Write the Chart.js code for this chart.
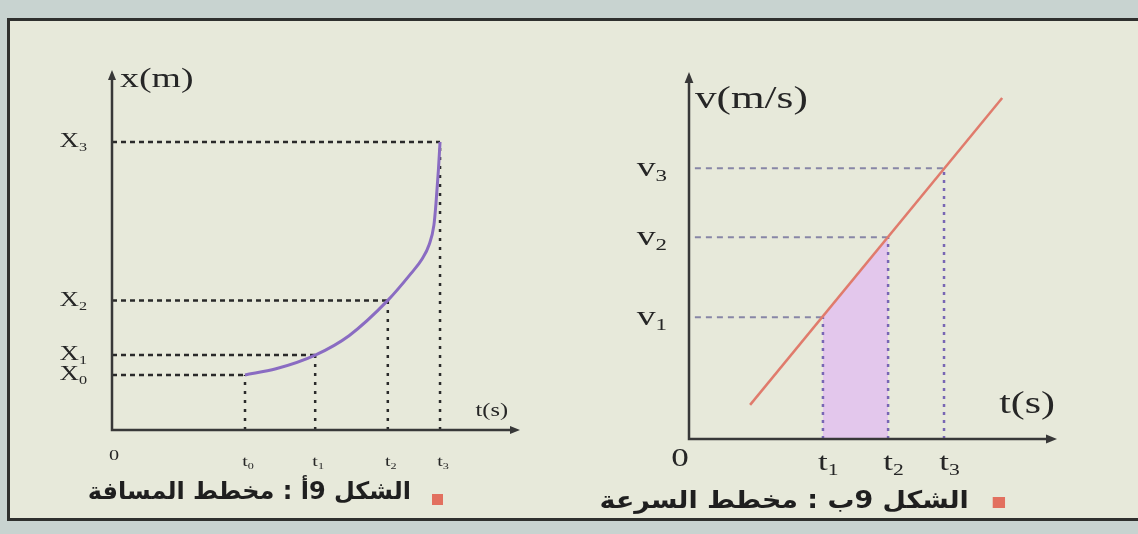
<!DOCTYPE html>
<html lang="ar">
<head>
<meta charset="utf-8">
<title>مخطط المسافة و مخطط السرعة</title>
<script src="https://cdn.jsdelivr.net/npm/chart.js@4.4.1/dist/chart.umd.min.js"></script>
<style>
  html, body { margin: 0; padding: 0; }
  body { width: 1138px; height: 534px; overflow: hidden; position: relative; background: #c8d3d0; }
  #frame { position: absolute; left: 7px; top: 18px; width: 1200px; height: 503px; box-sizing: border-box;
           border: 3px solid #2f302e; border-right: none; background: #e7e9da; }
  canvas { position: absolute; top: 0; }
  #distChart { left: 0; }
  #velChart { left: 569px; }
  .caption { position: absolute; direction: rtl; white-space: nowrap; color: #1f1f1f; transform-origin: right center;
             font-family: "DejaVu Sans", sans-serif; font-weight: bold; font-size: 24px; line-height: 30px; }
  .caption .mark { display: inline-block; position: relative; width: 11px; height: 11px; margin-left: 21px; background: #e2705f; }
  #capA { right: 695px; top: 476px; }
  #capA .mark { top: 6px; }
  #capB { right: 133px; top: 485px; transform: scaleX(1.12); }
</style>
</head>
<body>
<div id="frame"></div>
<canvas id="distChart" width="569" height="534"></canvas>
<canvas id="velChart" width="569" height="534"></canvas>
<div class="caption" id="capA"><span class="mark"></span>الشكل 9أ : مخطط المسافة</div>
<div class="caption" id="capB"><span class="mark"></span>الشكل 9ب : مخطط السرعة</div>
<script>
// ---- figure 9a : distance / time ----
const distTimeLabels = ['t0', 't1', 't2', 't3'];
const distTimes = [3.26, 4.98, 6.76, 8.04];
const distPosLabels = ['X0', 'X1', 'X2', 'X3'];
const distPositions = [1.53, 2.08, 3.60, 8.0];
const distCurveT = [3.26, 4.02, 4.98, 5.81, 6.76, 7.33, 7.60, 7.77, 7.89, 7.94, 8.00, 8.04];
const distCurveX = [1.53, 1.70, 2.08, 2.62, 3.60, 4.35, 4.75, 5.14, 5.69, 6.28, 7.22, 8.0];

// ---- figure 9b : velocity / time ----
const velTimeLabels = ['t1', 't2', 't3'];
const velTimes = [3.64, 5.41, 6.93];
const velLabels = ['v1', 'v2', 'v3'];
const velValues = [3.32, 5.50, 7.38];
const velLineT = [1.66, 8.51];
const velLineV = [0.93, 9.29];

const STRETCH = 1.35; // the printed figure is wider than it is tall
const SERIF = '"Liberation Serif", "Times New Roman", serif';

function textWidth(ctx, text, size) {
    ctx.font = `${size}px ${SERIF}`;
    return ctx.measureText(text).width * STRETCH;
}

function putText(ctx, text, x, y, size) {
    ctx.font = `${size}px ${SERIF}`;
    ctx.save();
    ctx.translate(x, y);
    ctx.scale(STRETCH, 1);
    ctx.fillText(text, 0, 0);
    ctx.restore();
}

// "t2" -> a "t" with a small "2" below it
function putIndexed(ctx, label, x, y, size, align) {
    const main = label.charAt(0);
    const sub = label.slice(1);
    const subSize = Math.round(size * 0.62);
    const wMain = textWidth(ctx, main, size);
    const wSub = sub ? textWidth(ctx, sub, subSize) : 0;
    const left = align === 'right' ? x - wMain - wSub : x - wMain / 2;
    putText(ctx, main, left, y, size);
    if (sub) putText(ctx, sub, left + wMain, y + size * 0.3, subSize);
}

// axes with arrow heads, tick names and axis titles
const figureAxes = {
    id: 'figureAxes',
    afterDatasetsDraw(chart, args, opts) {
        const { ctx } = chart;
        const xs = chart.scales.x;
        const ys = chart.scales.y;
        const x0 = xs.getPixelForValue(0);
        const y0 = ys.getPixelForValue(0);
        const xEnd = xs.getPixelForValue(xs.max);
        const yEnd = ys.getPixelForValue(ys.max);
        const a = opts.arrow;

        ctx.save();
        ctx.strokeStyle = opts.color;
        ctx.fillStyle = opts.color;
        ctx.lineWidth = opts.lineWidth;
        ctx.beginPath();
        ctx.moveTo(x0, yEnd + a);
        ctx.lineTo(x0, y0);
        ctx.lineTo(xEnd - a, y0);
        ctx.stroke();

        ctx.beginPath();
        ctx.moveTo(x0, yEnd);
        ctx.lineTo(x0 - a * 0.4, yEnd + a);
        ctx.lineTo(x0 + a * 0.4, yEnd + a);
        ctx.closePath();
        ctx.fill();
        ctx.beginPath();
        ctx.moveTo(xEnd, y0);
        ctx.lineTo(xEnd - a, y0 - a * 0.4);
        ctx.lineTo(xEnd - a, y0 + a * 0.4);
        ctx.closePath();
        ctx.fill();

        ctx.fillStyle = opts.textColor;
        ctx.textAlign = 'left';
        ctx.textBaseline = 'middle';
        opts.yTicks.forEach(t => {
            putIndexed(ctx, t.label, x0 - opts.yTickGap, ys.getPixelForValue(t.value), opts.yTickSize, 'right');
        });
        opts.xTicks.forEach(t => {
            putIndexed(ctx, t.label, xs.getPixelForValue(t.value) + (t.dx || 0), y0 + opts.xTickGap + (t.dy || 0), opts.xTickSize, 'center');
        });
        putText(ctx, opts.yTitle.text, x0 + opts.yTitle.dx, yEnd + opts.yTitle.dy, opts.yTitle.size);
        const w = textWidth(ctx, opts.xTitle.text, opts.xTitle.size);
        putText(ctx, opts.xTitle.text, xEnd - w + opts.xTitle.dx, y0 + opts.xTitle.dy, opts.xTitle.size);
        ctx.restore();
    }
};

// dashed line from the y axis to each point, dotted line from the t axis up to it
function guideSets(times, values, xStart, hStyle, vStyle) {
    const sets = [];
    times.forEach((t, i) => {
        sets.push(Object.assign({ data: [{ x: xStart, y: values[i] }, { x: t, y: values[i] }] }, hStyle));
        sets.push(Object.assign({ data: [{ x: t, y: 0 }, { x: t, y: values[i] }] }, vStyle));
    });
    return sets;
}

function baseOptions(padding, axes) {
    return {
        responsive: false,
        animation: false,
        events: [],
        layout: { padding },
        scales: {
            x: { type: 'linear', min: 0, max: 10, display: false },
            y: { type: 'linear', min: 0, max: 10, display: false }
        },
        elements: { point: { radius: 0 } },
        plugins: { legend: { display: false }, tooltip: { enabled: false }, figureAxes: axes }
    };
}

new Chart(document.getElementById('distChart'), {
    type: 'line',
    data: {
        datasets: [
            {
                data: distCurveT.map((t, i) => ({ x: t, y: distCurveX[i] })),
                borderColor: '#8a6cc2',
                borderWidth: 3,
                cubicInterpolationMode: 'monotone',
                clip: false,
                order: 0
            },
            ...guideSets(distTimes, distPositions, 0,
                { borderColor: '#2a2a2a', borderWidth: 2.5, borderDash: [5, 4], clip: false, order: 2 },
                { borderColor: '#2a2a2a', borderWidth: 2.5, borderDash: [3, 6], clip: false, order: 2 })
        ]
    },
    options: baseOptions({ left: 112, right: 49, top: 70, bottom: 104 }, {
        color: '#383838', textColor: '#262626', lineWidth: 2.5, arrow: 10,
        yTicks: distPosLabels.map((l, i) => ({ label: l, value: distPositions[i] })),
        xTicks: [{ label: '0', value: 0, dx: 2, dy: -6 }]
            .concat(distTimeLabels.map((l, i) => ({ label: l, value: distTimes[i] }))),
        yTickGap: 25, yTickSize: 20,
        xTickGap: 32, xTickSize: 15,
        yTitle: { text: 'x(m)', dx: 8, dy: 10, size: 28 },
        xTitle: { text: 't(s)', dx: -12, dy: -19, size: 18 }
    }),
    plugins: [figureAxes]
});

new Chart(document.getElementById('velChart'), {
    type: 'line',
    data: {
        datasets: [
            {
                data: velLineT.map((t, i) => ({ x: t, y: velLineV[i] })),
                borderColor: '#e07b6c',
                borderWidth: 2.5,
                clip: false,
                order: 0
            },
            ...guideSets(velTimes, velValues, 0.16,
                { borderColor: '#8886a6', borderWidth: 2, borderDash: [6, 5], clip: false, order: 2 },
                { borderColor: '#7866b4', borderWidth: 2.5, borderDash: [3, 5], clip: false, order: 2 }),
            {
                // area under the line between t1 and t2
                data: [{ x: velTimes[0], y: velValues[0] }, { x: velTimes[1], y: velValues[1] }],
                borderWidth: 0,
                backgroundColor: '#e3c7ec',
                fill: 'origin',
                order: 5
            }
        ]
    },
    options: baseOptions({ left: 120, right: 81, top: 72, bottom: 95 }, {
        color: '#383838', textColor: '#262626', lineWidth: 2.5, arrow: 11,
        yTicks: velLabels.map((l, i) => ({ label: l, value: velValues[i] })),
        xTicks: [{ label: '0', value: 0, dx: -9, dy: -4 }]
            .concat(velTimeLabels.map((l, i) => ({ label: l, value: velTimes[i] }))),
        yTickGap: 22, yTickSize: 28,
        xTickGap: 24, xTickSize: 26,
        yTitle: { text: 'v(m/s)', dx: 6, dy: 28, size: 32 },
        xTitle: { text: 't(s)', dx: -2, dy: -34, size: 31 }
    }),
    plugins: [figureAxes]
});
</script>
</body>
</html>
